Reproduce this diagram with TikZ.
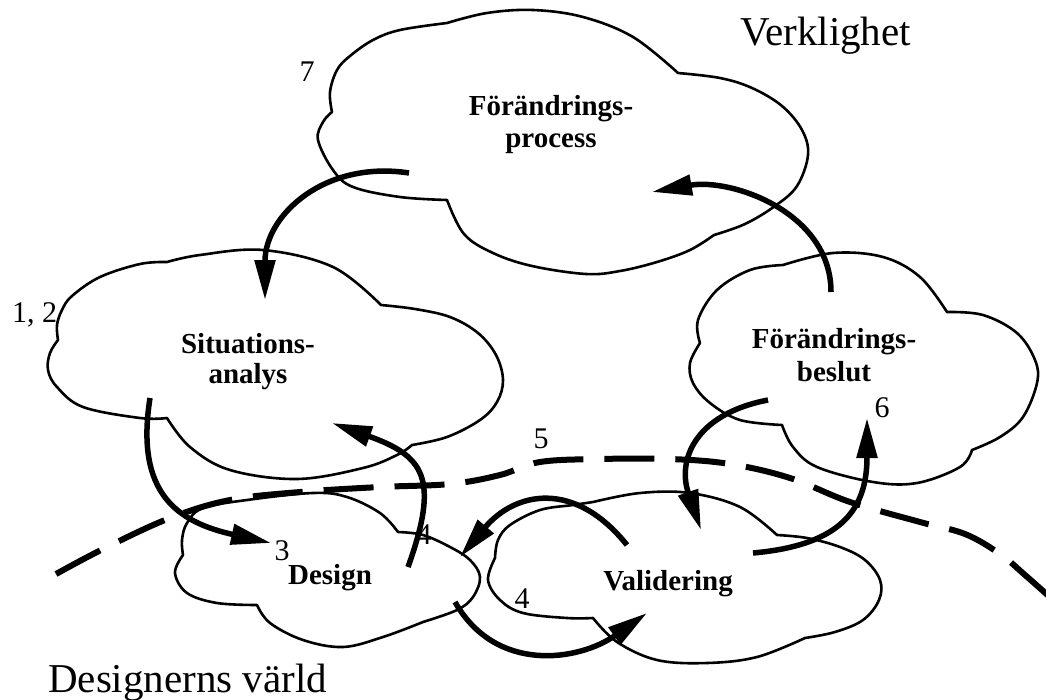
\documentclass[tikz,border=0pt]{standalone}
\usepackage{fontspec}
\setmainfont{Liberation Serif}
\usetikzlibrary{arrows.meta}
\begin{document}
\begin{tikzpicture}[x=1pt,y=-1pt,
  cloudline/.style={line width=2.6pt, line join=round},
  flow/.style={line width=5.5pt, -{Triangle[length=40pt,width=20pt]}},
  worldline/.style={line width=6pt, dash pattern=on 50pt off 21pt},
  boxtext/.style={font=\fontsize{29}{33}\selectfont\bfseries, anchor=base, inner sep=0pt},
  numtext/.style={font=\fontsize{30}{34}\selectfont, anchor=base, inner sep=0pt},
  worldtext/.style={font=\fontsize{41}{48}\selectfont, anchor=base west, inner sep=0pt},
  sm/.style={smooth, tension=0.6}
]
\useasboundingbox (0,0) rectangle (1046,699);

% ---------- clouds ----------
% Förändringsprocess
\draw[cloudline]
  plot[sm] coordinates {(332,112) (330,92) (337,70) (350,56) (373,40) (400,30) (447,23)}
  -- plot[sm] coordinates {(447,23) (487,13) (533,10) (583,17) (633,37) (678,73)}
  -- plot[sm] coordinates {(678,73) (720,78) (752,88) (782,106) (802,130) (808,155) (797,186) (775,206) (745,224) (714,235)}
  -- plot[sm] coordinates {(714,235) (690,250) (657,262) (620,271) (586,274) (532,266) (493,253) (464,234) (447,200)}
  -- plot[sm] coordinates {(447,200) (400,197) (353,187) (333,170) (318,140) (323,122) (332,112)}
  -- cycle;
% Situationsanalys
\draw[cloudline]
  plot[sm] coordinates {(58,340) (57,325) (62,310) (72,296) (100,277) (140,264) (167,262)}
  -- plot[sm] coordinates {(167,262) (200,255) (263,250) (333,267) (381,305)}
  -- plot[sm] coordinates {(381,305) (415,309) (450,317) (478,333) (496,355) (503,380) (497,402) (480,420) (447,437) (412,445)}
  -- plot[sm] coordinates {(412,445) (397,455) (363,468) (297,479) (230,470) (190,447) (167,418)}
  -- plot[sm] coordinates {(167,418) (140,418) (83,407) (57,387) (48,370) (50,353) (58,340)}
  -- cycle;
% Förändringsbeslut
\draw[cloudline]
  plot[sm] coordinates {(700,343) (698,320) (717,290) (750,270) (783,265)}
  -- plot[sm] coordinates {(783,265) (833,253) (883,257) (920,277) (947,312)}
  -- plot[sm] coordinates {(947,312) (983,315) (1017,333) (1035,360) (1037,383) (1023,417) (1000,437) (972,450)}
  -- plot[sm] coordinates {(972,450) (960,467) (917,483) (873,482) (817,467) (793,447) (782,425)}
  -- plot[sm] coordinates {(782,425) (740,420) (710,403) (693,383) (690,363) (700,343)}
  -- cycle;
% Design
\draw[cloudline]
  plot[sm] coordinates {(183,555) (182,540) (187,523) (203,508) (247,500) (313,493) (347,497) (380,513) (398,532)}
  -- plot[sm] coordinates {(398,532) (423,535) (450,547) (470,560) (480,577) (473,597) (457,610) (423,622)}
  -- plot[sm] coordinates {(423,622) (383,637) (343,647) (303,640) (270,623) (257,605)}
  -- plot[sm] coordinates {(257,605) (217,603) (187,593) (175,573) (183,555)}
  -- cycle;
% Validering
\draw[cloudline]
  plot[sm] coordinates {(495,558) (498,540) (510,525) (540,510) (573,505) (593,502)}
  -- plot[sm] coordinates {(593,502) (640,493) (690,493) (740,507) (777,535)}
  -- plot[sm] coordinates {(777,535) (807,538) (840,547) (865,560) (880,580) (879,600) (863,620) (835,632) (805,638)}
  -- plot[sm] coordinates {(805,638) (757,657) (707,663) (657,660) (617,642) (593,618)}
  -- plot[sm] coordinates {(593,618) (567,618) (523,613) (500,600) (488,580) (495,558)}
  -- cycle;

% ---------- boundary between the two worlds ----------
\draw[worldline] plot[smooth, tension=0.6] coordinates {(56,574) (105,548) (170,518) (230,500) (300,492) (380,487) (450,484) (500,475) (540,462) (600,459) (670,459) (730,464) (790,478) (850,502) (920,522) (965,534) (1000,554) (1025,575) (1052,599)};

% ---------- labels ----------
\node[boxtext] (procA) at (551,115) {Förändrings-};
\node[boxtext] (procB) at (551,147) {process};
\node[boxtext] (sitA) at (248,353) {Situations-};
\node[boxtext] (sitB) at (248,383) {analys};
\node[boxtext] (besA) at (834,348) {Förändrings-};
\node[boxtext] (besB) at (834,381) {beslut};
\node[boxtext] (des) at (330,584) {Design};
\node[boxtext] (val) at (668,590) {Validering};

\node[worldtext] (real) at (740,45) {Verklighet};
\node[worldtext] (world) at (48,692) {Designerns värld};

\node[numtext] (n7) at (307,81) {7};
\node[numtext, anchor=base west] (n12) at (12,322) {1, 2};
\node[numtext] (n3) at (282,560) {3};
\node[numtext] (n4a) at (424,544) {4};
\node[numtext] (n4b) at (522,608) {4};
\node[numtext] (n5) at (541,448) {5};
\node[numtext] (n6) at (882,417) {6};

% ---------- flows ----------
\coordinate (pOut) at (409,173);  \coordinate (sIn)  at (265,300);
\coordinate (bOut) at (831,292);  \coordinate (pIn)  at (652,192);
\coordinate (sOut) at (150,398);  \coordinate (dIn)  at (271,543);
\coordinate (dOut) at (408,567);  \coordinate (sIn2) at (332,423);
\coordinate (bOut2) at (768,400); \coordinate (vIn)  at (701,530);
\coordinate (vOut) at (753,553);  \coordinate (bIn)  at (867,418);
\coordinate (vOut2) at (627,545); \coordinate (dIn2) at (460,557);
\coordinate (dOut2) at (455,602); \coordinate (vIn2) at (647,613);

\draw[flow] (pOut) .. controls (325,160) and (265,215) .. (sIn);
\draw[flow] (bOut) .. controls (831,212) and (731,178) .. (pIn);
\draw[flow] (sOut) .. controls (135,493) and (177,522) .. (dIn);
\draw[flow] (dOut) .. controls (440,478) and (424,456) .. (sIn2);
\draw[flow] (bOut2) .. controls (695,414) and (677,460) .. (vIn);
\draw[flow] (vOut) .. controls (843,545) and (867,508) .. (bIn);
\draw[flow] (vOut2) .. controls (574,479) and (515,492) .. (dIn2);
\draw[flow] (dOut2) .. controls (496,674) and (579,661) .. (vIn2);
\end{tikzpicture}
\end{document}
